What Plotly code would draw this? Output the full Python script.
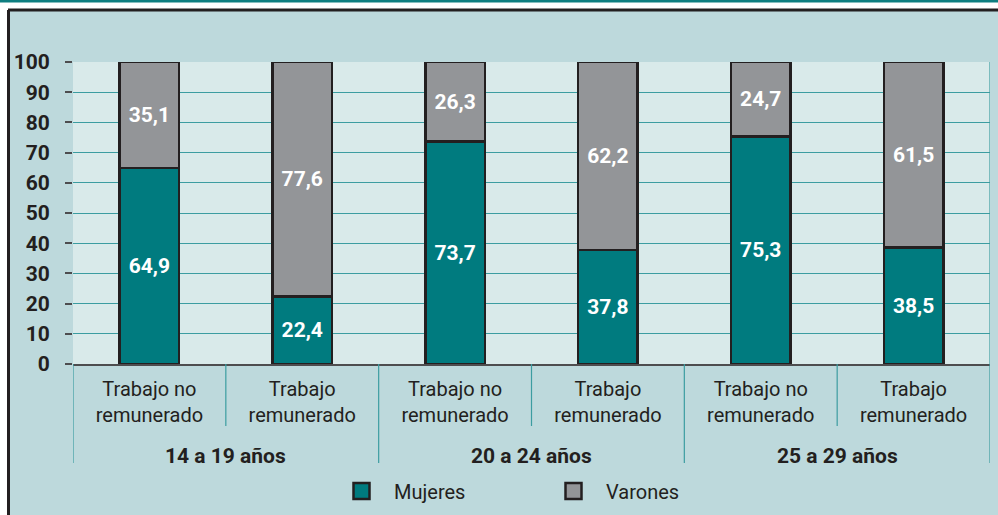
import plotly.graph_objects as go

groups = ["14 a 19 años", "20 a 24 años", "25 a 29 años"]
tipos = ["Trabajo no<br>remunerado", "Trabajo<br>remunerado"]
mujeres = [64.9, 22.4, 73.7, 37.8, 75.3, 38.5]
varones = [35.1, 77.6, 26.3, 62.2, 24.7, 61.5]
y_ticks = [0, 10, 20, 30, 40, 50, 60, 70, 80, 90, 100]

FONT = "Roboto, Liberation Sans, sans-serif"
TEAL = "#007B7F"
GRAY = "#939598"
EDGE = "#231F20"
GRID = "#3C9DA1"
PAPER = "#BDD9DC"
PLOTBG = "#D9EAEA"

W, H = 998, 515
L, R, T, B = 73, 8, 62, 151
pw, ph = W - L - R, H - T - B

def px_x(p):
    return (p - L) / pw

def px_y(p):
    return (H - B - p) / ph

labels = [t for g in groups for t in tipos]
xs = list(range(len(labels)))

fig = go.Figure()
fig.add_trace(go.Bar(x=xs, y=mujeres, name="Mujeres", marker=dict(color=TEAL, line=dict(color=EDGE, width=2.5)),
                     width=0.39, texttemplate="%{y:.1f}", textposition="inside", insidetextanchor="middle",
                     textfont=dict(color="white", size=21, family=FONT, weight="bold"), showlegend=False))
fig.add_trace(go.Bar(x=xs, y=varones, name="Varones", marker=dict(color=GRAY, line=dict(color=EDGE, width=2.5)),
                     width=0.39, texttemplate="%{y:.1f}", textposition="inside", insidetextanchor="middle",
                     textfont=dict(color="white", size=21, family=FONT, weight="bold"), showlegend=False))
for nm, col in [("Mujeres", TEAL), ("Varones", GRAY)]:
    fig.add_trace(go.Scatter(x=[None], y=[None], mode="markers", name=nm,
                             marker=dict(symbol="square", size=17, color=col, line=dict(color=EDGE, width=2.5))))

shapes = []
shapes.append(dict(type="rect", xref="paper", yref="paper", x0=px_x(0), x1=px_x(W), y0=px_y(10), y1=px_y(0),
                   fillcolor="white", line_width=0, layer="below"))
shapes.append(dict(type="rect", xref="paper", yref="paper", x0=px_x(0), x1=px_x(8), y0=px_y(H), y1=px_y(0),
                   fillcolor="white", line_width=0, layer="below"))
shapes.append(dict(type="rect", xref="paper", yref="paper", x0=px_x(0), x1=px_x(W), y0=px_y(2.5), y1=px_y(0),
                   fillcolor="#0E7E80", line_width=0, layer="below"))
shapes.append(dict(type="line", xref="paper", yref="paper", x0=px_x(8), x1=px_x(W), y0=px_y(10), y1=px_y(10),
                   line=dict(color=EDGE, width=3)))
shapes.append(dict(type="line", xref="paper", yref="paper", x0=px_x(8.5), x1=px_x(8.5), y0=px_y(10), y1=px_y(H),
                   line=dict(color=EDGE, width=3)))
for i in range(len(labels) + 1):
    xv = i - 0.5
    long_ = (i % 2 == 0)
    y1 = 1 if i == len(labels) else 0
    shapes.append(dict(type="line", xref="x", yref="paper", x0=xv, x1=xv, y0=px_y(463 if long_ else 426), y1=y1,
                       line=dict(color=GRID, width=1.2)))

annotations = []
for gi, g in enumerate(groups):
    annotations.append(dict(x=gi * 2 + 0.5, y=px_y(456), xref="x", yref="paper", text=g, showarrow=False,
                            font=dict(size=21, family=FONT, color=EDGE, weight="bold"), yanchor="middle"))

fig.update_layout(
    width=W, height=H, margin=dict(l=L, r=R, t=T, b=B, autoexpand=False),
    paper_bgcolor=PAPER, plot_bgcolor=PLOTBG,
    barmode="stack", separators=",.",
    font=dict(family=FONT, color=EDGE),
    shapes=shapes, annotations=annotations,
    legend=dict(orientation="h", xref="container", yref="container", x=541 / W, xanchor="center",
                y=(H - 491) / H, yanchor="middle", traceorder="normal",
                font=dict(size=20, family=FONT, color=EDGE), entrywidth=142, itemwidth=55,
                bgcolor="rgba(0,0,0,0)"),
    xaxis=dict(range=[-0.5, len(labels) - 0.5], tickvals=xs, ticktext=labels, showgrid=False, zeroline=False,
               ticks="", tickfont=dict(size=20, family=FONT, color=EDGE), ticklabelstandoff=6,
               showline=True, linecolor="#4D4D4F", linewidth=2, automargin=False),
    yaxis=dict(range=[0, 100], tickvals=y_ticks, showgrid=True, gridcolor=GRID, gridwidth=1, zeroline=False,
               ticks="outside", ticklen=7, tickcolor="#4D4D4F", tickwidth=2, automargin=False,
               tickfont=dict(size=21, family=FONT, color=EDGE, weight="bold"), ticklabelstandoff=11),
)

fig.write_html("out.html", config={"displayModeBar": False}, post_script="document.body.style.margin='0';")
